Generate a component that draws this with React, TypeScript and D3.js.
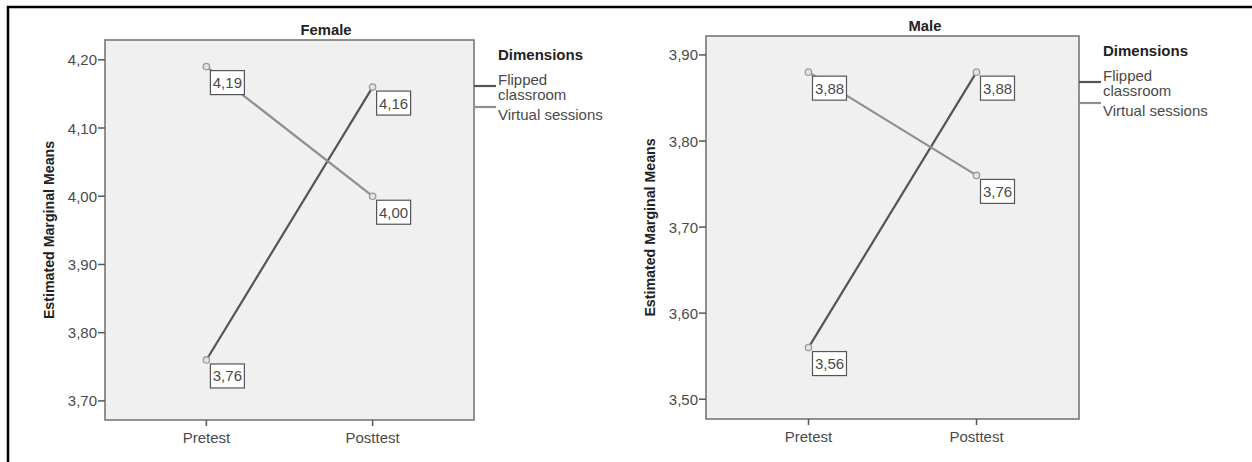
import React from "react";
import * as d3 from "d3";

const categories = ["Pretest", "Posttest"];
const seriesNames = ["Flipped classroom", "Virtual sessions"];
const femaleFlipped = [3.76, 4.16];
const femaleVirtual = [4.19, 4.0];
const maleFlipped = [3.56, 3.88];
const maleVirtual = [3.88, 3.76];
const femaleTicks = [3.7, 3.8, 3.9, 4.0, 4.1, 4.2];
const maleTicks = [3.5, 3.6, 3.7, 3.8, 3.9];
const femaleDomain = [3.672, 4.229];
const maleDomain = [3.477, 3.922];

const locale = d3.formatLocale({ decimal: ",", thousands: ".", grouping: [3], currency: ["", ""] });
const fmt = locale.format(".2f");

const FONT = "'Liberation Sans', Arial, Helvetica, sans-serif";
const seriesColors = ["#555555", "#8f8f8f"];

type PanelProps = {
  title: string;
  left: number;
  right: number;
  top: number;
  bottom: number;
  titleX: number;
  domain: number[];
  ticks: number[];
  series: number[][];
};

function Panel({ title, left, right, top, bottom, titleX, domain, ticks, series }: PanelProps) {
  const x = d3.scalePoint<string>().domain(categories).range([left, right]).padding(0.61);
  const y = d3.scaleLinear().domain(domain).range([bottom, top]);
  const line = d3
    .line<number>()
    .x((_, i) => x(categories[i]) as number)
    .y((d) => y(d));
  const legendX = right + 24;
  const flippedWords = seriesNames[0].split(" ");
  return (
    <g>
      <text x={titleX} y={top - 5} textAnchor="middle" fontFamily={FONT} fontWeight="bold" fontSize={14.8} fill="#222">
        {title}
      </text>
      <rect x={left} y={top} width={right - left} height={bottom - top} fill="#f0f0f0" stroke="#777" strokeWidth={1.6} />
      {ticks.map((t) => (
        <g key={t}>
          <line x1={left - 7} x2={left} y1={y(t)} y2={y(t)} stroke="#555" strokeWidth={1.5} />
          <text x={left - 8} y={y(t) + 5.5} textAnchor="end" fontFamily={FONT} fontSize={15} fill="#4a4a4a">
            {fmt(t)}
          </text>
        </g>
      ))}
      {categories.map((c) => (
        <g key={c}>
          <line x1={x(c)} x2={x(c)} y1={bottom} y2={bottom + 6} stroke="#555" strokeWidth={1.5} />
          <text x={x(c)} y={bottom + 23} textAnchor="middle" fontFamily={FONT} fontSize={15} fill="#4a4a4a">
            {c}
          </text>
        </g>
      ))}
      <text
        transform={`translate(${left - 51},${(top + bottom) / 2}) rotate(-90)`}
        textAnchor="middle"
        fontFamily={FONT}
        fontWeight="bold"
        fontSize={14.2}
        fill="#222"
      >
        Estimated Marginal Means
      </text>
      {series.map((s, si) => (
        <path key={si} d={line(s) || ""} fill="none" stroke={seriesColors[si]} strokeWidth={2.2} />
      ))}
      {series.map((s, si) =>
        s.map((v, i) => {
          const px = x(categories[i]) as number;
          const py = y(v);
          return (
            <g key={`${si}-${i}`}>
              <circle cx={px} cy={py} r={3.2} fill="#e4e4e4" stroke="#9a9a9a" strokeWidth={1.3} />
              <rect x={px + 4} y={py + 4} width={34} height={24} fill="#fff" stroke="#555" strokeWidth={1.2} />
              <text x={px + 21} y={py + 21.5} textAnchor="middle" fontFamily={FONT} fontSize={15} fill="#4a4a4a">
                {fmt(v)}
              </text>
            </g>
          );
        })
      )}
      <text x={legendX} y={top + 20} fontFamily={FONT} fontWeight="bold" fontSize={15} fill="#222">
        Dimensions
      </text>
      <line x1={right} x2={legendX - 2} y1={top + 46} y2={top + 46} stroke={seriesColors[0]} strokeWidth={2.2} />
      <text x={legendX} y={top + 45} fontFamily={FONT} fontSize={15} fill="#4a4a4a">
        {flippedWords[0]}
      </text>
      <text x={legendX} y={top + 60} fontFamily={FONT} fontSize={15} fill="#4a4a4a">
        {flippedWords.slice(1).join(" ")}
      </text>
      <line x1={right} x2={legendX - 2} y1={top + 67} y2={top + 67} stroke={seriesColors[1]} strokeWidth={2.2} />
      <text x={legendX} y={top + 80} fontFamily={FONT} fontSize={15} fill="#4a4a4a">
        {seriesNames[1]}
      </text>
    </g>
  );
}

export default function App() {
  return (
    <div style={{ position: "absolute", left: 0, top: 0 }}>
      <svg width={1252} height={462} style={{ display: "block", background: "#fff" }}>
        <line x1={7} x2={1252} y1={7} y2={7} stroke="#000" strokeWidth={2.5} />
        <line x1={8} x2={8} y1={6} y2={462} stroke="#000" strokeWidth={2.5} />
        <Panel
          title="Female"
          left={105}
          right={474}
          top={40}
          bottom={420}
          titleX={326}
          domain={femaleDomain}
          ticks={femaleTicks}
          series={[femaleFlipped, femaleVirtual]}
        />
        <Panel
          title="Male"
          left={706}
          right={1079}
          top={36}
          bottom={419}
          titleX={925}
          domain={maleDomain}
          ticks={maleTicks}
          series={[maleFlipped, maleVirtual]}
        />
      </svg>
    </div>
  );
}
